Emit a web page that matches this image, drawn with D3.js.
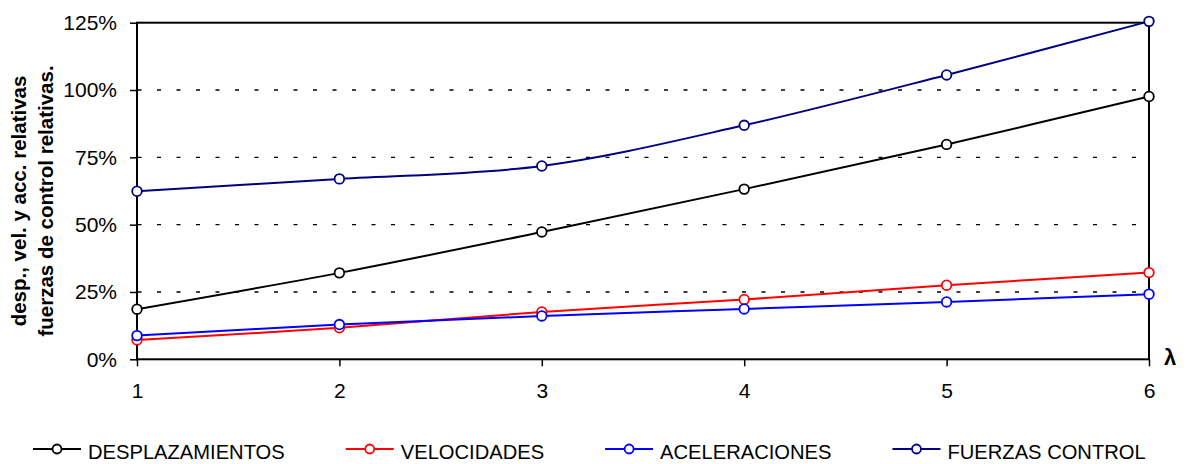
<!DOCTYPE html>
<html>
<head>
<meta charset="utf-8">
<script src="https://cdn.jsdelivr.net/npm/d3@7"></script>
<style>
  body { margin: 0; background: #fff; }
  svg { display: block; font-family: "Liberation Sans", Arial, sans-serif; }
  .axis text { font-size: 21px; fill: #000; }
  .axis line, .axis path { stroke: #000; stroke-width: 1.5; }
  .grid line { stroke: #000; stroke-width: 1.3; stroke-dasharray: 4 15.5; }
</style>
</head>
<body>
<div id="chart"></div>
<script>
// values (percent)
const lambdas = [1, 2, 3, 4, 5, 6];
const desplazamientos = [18.6, 32.1, 47.3, 63.2, 79.8, 97.6];
const velocidades = [7.2, 11.7, 17.6, 22.2, 27.5, 32.2];
const aceleraciones = [8.8, 12.9, 16.1, 18.7, 21.3, 24.2];
const fuerzasControl = [62.4, 67.0, 71.8, 86.9, 105.6, 125.5];
const yTicks = [0, 25, 50, 75, 100, 125];
const seriesNames = ['DESPLAZAMIENTOS', 'VELOCIDADES', 'ACELERACIONES', 'FUERZAS CONTROL'];
const seriesColors = ['#000000', '#ff0000', '#0000ff', '#000080'];

const config = {
  width: 1192,
  height: 464,
  margin: {top: 22.7, right: 43, bottom: 104.7, left: 137}
};
const innerW = config.width - config.margin.left - config.margin.right;
const innerH = config.height - config.margin.top - config.margin.bottom;

const svg = d3.select('#chart').append('svg')
    .attr('width', config.width)
    .attr('height', config.height);

const chart = svg.append('g')
    .attr('transform', `translate(${config.margin.left},${config.margin.top})`);

// Scales
const xScale = d3.scaleLinear().domain([1, 6]).range([0, innerW]);
const yScale = d3.scaleLinear().domain([0, 125]).range([innerH, 0]);

// Dashed gridlines
chart.append('g')
    .attr('class', 'grid')
  .selectAll('line')
    .data(yTicks.filter(d => d > 0 && d < 125))
  .join('line')
    .attr('x1', 0)
    .attr('x2', innerW)
    .attr('y1', d => yScale(d))
    .attr('y2', d => yScale(d))
    .attr('stroke-dashoffset', 19);

// Plot frame
chart.append('rect')
    .attr('width', innerW)
    .attr('height', innerH)
    .attr('fill', 'none')
    .attr('stroke', '#000')
    .attr('stroke-width', 2);

// Axes
const yAxis = d3.axisLeft(yScale)
    .tickValues(yTicks)
    .tickSize(7)
    .tickPadding(13)
    .tickFormat(d => d + '%');

const xAxis = d3.axisBottom(xScale)
    .tickValues(lambdas)
    .tickSize(7)
    .tickPadding(16.8)
    .tickFormat(d3.format('d'));

chart.append('g')
    .attr('class', 'axis y-axis')
    .call(yAxis)
    .call(g => g.select('.domain').remove());

chart.append('g')
    .attr('class', 'axis x-axis')
    .attr('transform', `translate(0,${innerH})`)
    .call(xAxis)
    .call(g => g.select('.domain').remove());

// Axis titles
const yTitle = svg.append('text')
    .attr('transform', 'translate(0,201) rotate(-90)')
    .attr('text-anchor', 'middle')
    .style('font-weight', 'bold')
    .style('font-size', '20.5px');
yTitle.append('tspan').attr('x', 0).attr('y', 26).text('desp., vel. y acc. relativas');
yTitle.append('tspan').attr('x', 0).attr('y', 52.5).text('fuerzas de control relativas.');

svg.append('text')
    .attr('x', 1164)
    .attr('y', 365)
    .style('font-weight', 'bold')
    .style('font-size', '22px')
    .text('λ');

// Lines and markers
const data = [desplazamientos, velocidades, aceleraciones, fuerzasControl];
const line = d3.line()
    .x((d, i) => xScale(lambdas[i]))
    .y(d => yScale(d))
    .curve(d3.curveCardinal.tension(0));

const series = chart.selectAll('.series')
    .data(data)
  .join('g')
    .attr('class', 'series');

series.append('path')
    .attr('d', d => line(d))
    .attr('fill', 'none')
    .attr('stroke', (d, i) => seriesColors[i])
    .attr('stroke-width', 2);

series.each(function(values, s) {
  d3.select(this).selectAll('circle')
      .data(values)
    .join('circle')
      .attr('cx', (d, i) => xScale(lambdas[i]))
      .attr('cy', d => yScale(d))
      .attr('r', 4.8)
      .attr('fill', '#fff')
      .attr('stroke', seriesColors[s])
      .attr('stroke-width', 1.8);
});

// Legend (slightly condensed text like the original)
const legend = svg.append('g').attr('class', 'legend');
let lx = 33;
seriesNames.forEach((name, i) => {
  const item = legend.append('g').attr('transform', `translate(${lx},449)`);
  item.append('line')
      .attr('x1', 0).attr('x2', 48)
      .attr('stroke', seriesColors[i])
      .attr('stroke-width', 2);
  item.append('circle')
      .attr('cx', 24).attr('r', 4.5)
      .attr('fill', '#fff')
      .attr('stroke', seriesColors[i])
      .attr('stroke-width', 1.8);
  const t = item.append('text')
      .attr('transform', 'translate(55,9.5) scale(0.96,1)')
      .style('font-size', '21px')
      .text(name);
  lx += 55 + t.node().getComputedTextLength() * 0.96 + 61;
});
</script>
</body>
</html>
